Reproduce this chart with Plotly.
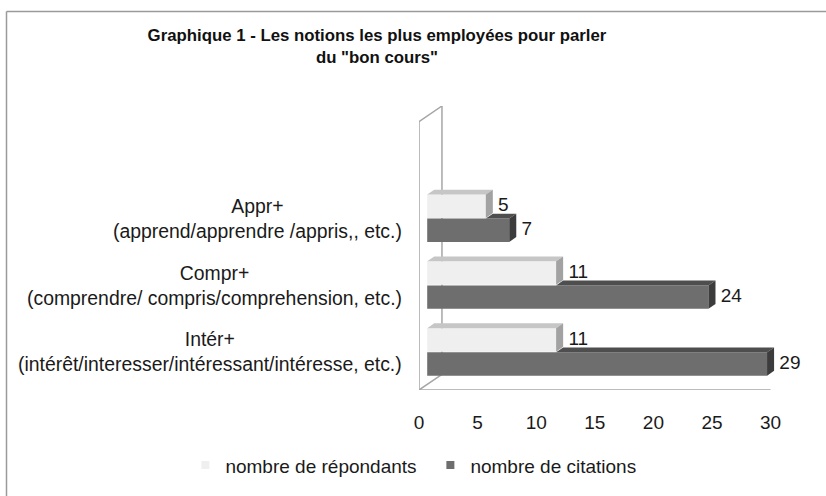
import plotly.graph_objects as go

# ---------------------------------------------------------------------------
# Data
# ---------------------------------------------------------------------------
categories = ["Intér+", "Compr+", "Appr+"]
details = [
    "(intérêt/interesser/intéressant/intéresse, etc.)",
    "(comprendre/ compris/comprehension, etc.)",
    "(apprend/apprendre /appris,, etc.)",
]
repondants = [11, 11, 5]
citations = [29, 24, 7]
series_names = ["nombre de répondants", "nombre de citations"]
x_ticks = [0, 5, 10, 15, 20, 25, 30]

TITLE = 'Graphique 1 - Les notions les plus employées pour parler<br>du "bon cours"'
FONT = "Liberation Sans, Arial, sans-serif"

# pseudo-3D projection (data units)
SHIFT = 0.7      # bars sit at mid depth, pushed right from the front plane
DX, DY = 0.6, 0.073   # bar depth
BAR_H, OFF = 0.35, 0.18
WX, WY = 1.96, 0.234  # wall depth
FLOOR, WALL_TOP = -0.569, 3.445
LABEL_GAP = 0.45

LIGHT = {"front": "#efefef", "top": "#c6c6c6", "side": "#a2a2a2"}
DARK = {"front": "#6e6e6e", "top": "#4e4e4e", "side": "#3c3c3c"}
WALL = "#a6a6a6"


def face(xs, ys, color):
    return go.Scatter(x=xs + [xs[0]], y=ys + [ys[0]], mode="lines", fill="toself",
                      fillcolor=color, line=dict(width=0), hoverinfo="skip",
                      showlegend=False)


pos = list(range(len(categories)))
fig = go.Figure()

# front faces
fig.add_trace(go.Bar(y=[p - OFF for p in pos], x=citations, base=SHIFT, orientation="h",
                     width=BAR_H, marker=dict(color=DARK["front"], line=dict(width=0)),
                     name=series_names[1], showlegend=False))
fig.add_trace(go.Bar(y=[p + OFF for p in pos], x=repondants, base=SHIFT, orientation="h",
                     width=BAR_H, marker=dict(color=LIGHT["front"], line=dict(width=0)),
                     name=series_names[0], showlegend=False))

# top and side faces
for p, lv, dv in zip(pos, repondants, citations):
    # dark bar
    top = p - OFF + BAR_H / 2
    bot = p - OFF - BAR_H / 2
    xe = SHIFT + dv
    xl = SHIFT + lv
    fig.add_trace(face([xl, xe, xe + DX, xl + DX], [top, top, top + DY, top + DY], DARK["top"]))
    fig.add_trace(face([xe, xe, xe + DX, xe + DX], [bot, top, top + DY, bot + DY], DARK["side"]))
    # light bar
    top = p + OFF + BAR_H / 2
    bot = p + OFF - BAR_H / 2
    fig.add_trace(face([SHIFT, xl, xl + DX, SHIFT + DX], [top, top, top + DY, top + DY], LIGHT["top"]))
    fig.add_trace(face([xl, xl, xl + DX, xl + DX], [bot, top, top + DY, bot + DY], LIGHT["side"]))

# value labels
for vals, off in ((repondants, OFF), (citations, -OFF)):
    fig.add_trace(go.Scatter(x=[SHIFT + v + DX + LABEL_GAP for v in vals],
                             y=[p + off for p in pos],
                             mode="text", text=[str(v) for v in vals],
                             textposition="middle right", cliponaxis=False,
                             textfont=dict(size=19, color="#1a1a1a"), showlegend=False,
                             hoverinfo="skip"))

# legend entries
for name, col in zip(series_names, [LIGHT["front"], DARK["front"]]):
    fig.add_trace(go.Scatter(x=[None], y=[None], mode="markers", name=name,
                             marker=dict(symbol="square", size=8, color=col)))

# wall and floor
shapes = [
    dict(type="line", x0=0, y0=FLOOR, x1=0, y1=WALL_TOP),
    dict(type="line", x0=0, y0=WALL_TOP, x1=WX, y1=WALL_TOP + WY),
    dict(type="line", x0=WX, y0=WALL_TOP + WY, x1=WX, y1=FLOOR + WY),
    dict(type="line", x0=0, y0=FLOOR, x1=WX, y1=FLOOR + WY),
    dict(type="line", x0=0, y0=FLOOR, x1=30, y1=FLOOR),
]
for s in shapes:
    s.update(xref="x", yref="y", layer="below", line=dict(color=WALL, width=1.5))
# outer frame (top and left edges visible)
shapes.append(dict(type="line", xref="paper", yref="paper", x0=-1.1, y0=1.333, x1=2.0, y1=1.333,
                   line=dict(color="#9a9a9a", width=1.5)))
shapes.append(dict(type="line", xref="paper", yref="paper", x0=-1.1, y0=-0.5, x1=-1.1, y1=1.333,
                   line=dict(color="#9a9a9a", width=1.5)))

annotations = [
    dict(x=0, y=p, xref="x", yref="y", xanchor="right", yanchor="middle", xshift=-15,
         text=f"{c}<br>{d}", align="center", showarrow=False,
         font=dict(size=19.4, color="#1a1a1a"))
    for p, c, d in zip(pos, categories, details)
]

fig.update_layout(
    width=826,
    height=496,
    margin=dict(l=419, r=31.5, t=106, b=99),
    paper_bgcolor="white",
    plot_bgcolor="white",
    font=dict(family=FONT, size=19, color="#1a1a1a"),
    title=dict(text=TITLE, x=377 / 826, xref="container", xanchor="center",
               y=1 - 41 / 496, yref="container", yanchor="top",
               font=dict(family=FONT, size=16.8, color="#111111", weight="bold")),
    barmode="overlay",
    xaxis=dict(range=[0, 32], tickvals=x_ticks, showgrid=False, zeroline=False,
               showline=False, ticks="", ticklabelstandoff=19,
               tickfont=dict(size=19, color="#1a1a1a"), fixedrange=True),
    yaxis=dict(range=[FLOOR, WALL_TOP + WY], visible=False, fixedrange=True),
    legend=dict(orientation="h", x=-0.623, xanchor="left", y=-0.265, yanchor="middle",
                font=dict(size=19), bgcolor="rgba(0,0,0,0)", traceorder="normal",
                entrywidth=200, entrywidthmode="pixels"),
    shapes=shapes,
    annotations=annotations,
)

fig.write_html("out.html", config={"displayModeBar": False},
               post_script="document.body.style.margin='0';")
